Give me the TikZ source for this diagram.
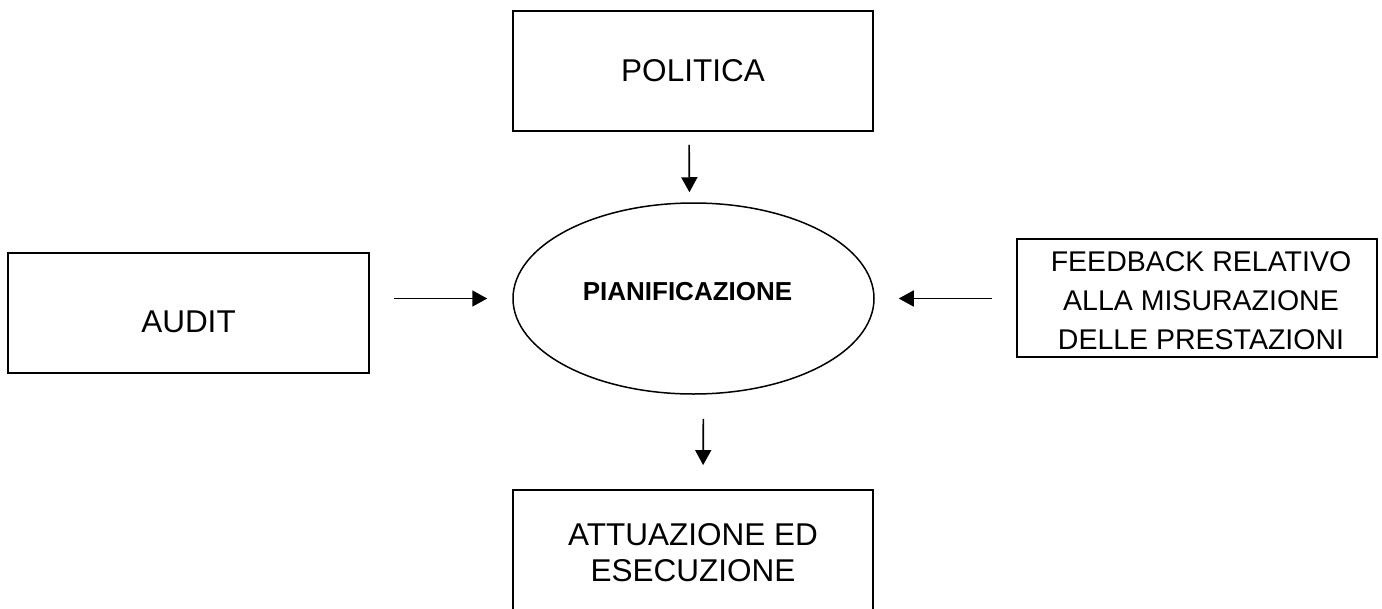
\documentclass[tikz,border=0pt]{standalone}
\usepackage{fontspec}
\setmainfont{Liberation Sans}
\usetikzlibrary{arrows.meta,shapes.geometric}
\begin{document}
\begin{tikzpicture}[x=1pt,y=-1pt,
  box/.style={draw=black,line width=1.9pt,rectangle,inner sep=0pt,align=center,font=\fontsize{31.5}{36}\selectfont},
  arr/.style={line width=1.7pt,-{Triangle[width=16pt,length=15pt]}}]
\clip (0,0) rectangle (1382,608);
\useasboundingbox (0,0) rectangle (1382,608);
\node[box,minimum width=360,minimum height=120] (pol) at (693,71) {POLITICA};
\node[box,minimum width=361,minimum height=120,
  label={[name=audittext,font=\fontsize{31.5}{36}\selectfont,yshift=-9pt]center:AUDIT}] (audit) at (188.5,313) {};
\node[draw=black,line width=1.5pt,ellipse,inner sep=0pt,minimum width=361,minimum height=191,
  label={[name=piantext,font=\bfseries\fontsize{26}{30}\selectfont,xshift=-6pt,yshift=7pt]center:PIANIFICAZIONE}] (pian) at (693.5,298.5) {};
\node[box,minimum width=360,minimum height=118,
  label={[name=feedtext,align=center,font=\fontsize{28.5}{39}\selectfont,xshift=4pt,yshift=-3pt]center:FEEDBACK RELATIVO\\ALLA MISURAZIONE\\DELLE PRESTAZIONI}] (feed) at (1197,298) {};
\node[box,minimum width=360,minimum height=126] (att) at (693,553) {ATTUAZIONE ED\\ESECUZIONE};
\draw[arr,shorten <=13pt,shorten >=10pt] ([xshift=-4pt]pol.south) -- ([xshift=-4pt]pian.north);
\draw[arr,shorten <=24pt,shorten >=24pt] ([xshift=10pt]pian.south) -- ([xshift=10pt]att.north);
\draw[arr,shorten <=24pt,shorten >=25pt] (pian.west -| audit.east) -- (pian.west);
\draw[arr,shorten <=24pt,shorten >=24pt] (pian.east -| feed.west) -- (pian.east);
\end{tikzpicture}
\end{document}
